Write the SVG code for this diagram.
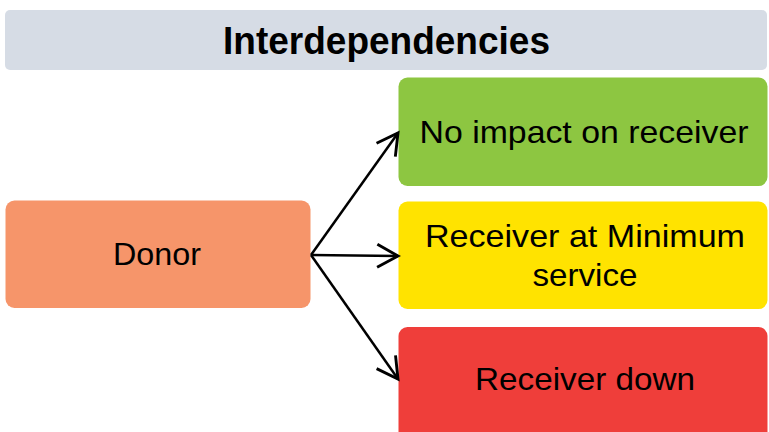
<svg xmlns="http://www.w3.org/2000/svg" width="769" height="432" viewBox="0 0 769 432">
  <style>
    .lbl { font-family: "Liberation Sans", Arial, sans-serif; font-size: 32px; fill: #000; text-anchor: middle; }
    .title { font-family: "Liberation Sans", Arial, sans-serif; font-size: 38px; font-weight: bold; fill: #000; text-anchor: middle; }
    .conn { stroke: #000; stroke-width: 2.5; fill: none; }
  </style>
  <defs>
    <marker id="arrow" markerUnits="userSpaceOnUse" markerWidth="30" markerHeight="30" viewBox="-22 -13 26 26" refX="0" refY="0" orient="auto">
      <path d="M -18 -10 L 0 0 L -18 10" fill="none" stroke="#000" stroke-width="2.5" stroke-linejoin="miter"/>
    </marker>
  </defs>
  <rect width="769" height="432" fill="#ffffff"/>
  <g id="title">
    <rect x="5" y="10" width="762" height="60" rx="5" fill="#D6DCE5"/>
    <text class="title" x="386.5" y="54" textLength="327" lengthAdjust="spacingAndGlyphs">Interdependencies</text>
  </g>
  <g id="donor">
    <rect x="5.5" y="200.5" width="305" height="107.5" rx="9" fill="#F6956A"/>
    <text class="lbl" x="157" y="265" textLength="88" lengthAdjust="spacingAndGlyphs">Donor</text>
  </g>
  <g id="no-impact">
    <rect x="398.5" y="77.5" width="369" height="108.5" rx="9" fill="#8DC641"/>
    <text class="lbl" x="584" y="143" textLength="329" lengthAdjust="spacingAndGlyphs">No impact on receiver</text>
  </g>
  <g id="minimum-service">
    <rect x="398.5" y="201.5" width="369" height="107.5" rx="9" fill="#FFE300"/>
    <text class="lbl" x="585" y="246.5" textLength="320" lengthAdjust="spacingAndGlyphs">Receiver at Minimum</text>
    <text class="lbl" x="585" y="286" textLength="105" lengthAdjust="spacingAndGlyphs">service</text>
  </g>
  <g id="receiver-down">
    <rect x="398.5" y="327" width="369" height="120" rx="9" fill="#EF3E3A"/>
    <text class="lbl" x="585" y="390" textLength="220" lengthAdjust="spacingAndGlyphs">Receiver down</text>
  </g>
  <g id="connectors">
    <line class="conn" x1="311" y1="255" x2="398" y2="133" marker-end="url(#arrow)"/>
    <line class="conn" x1="311" y1="255" x2="398" y2="256" marker-end="url(#arrow)"/>
    <line class="conn" x1="311" y1="255" x2="398" y2="379" marker-end="url(#arrow)"/>
  </g>
</svg>
